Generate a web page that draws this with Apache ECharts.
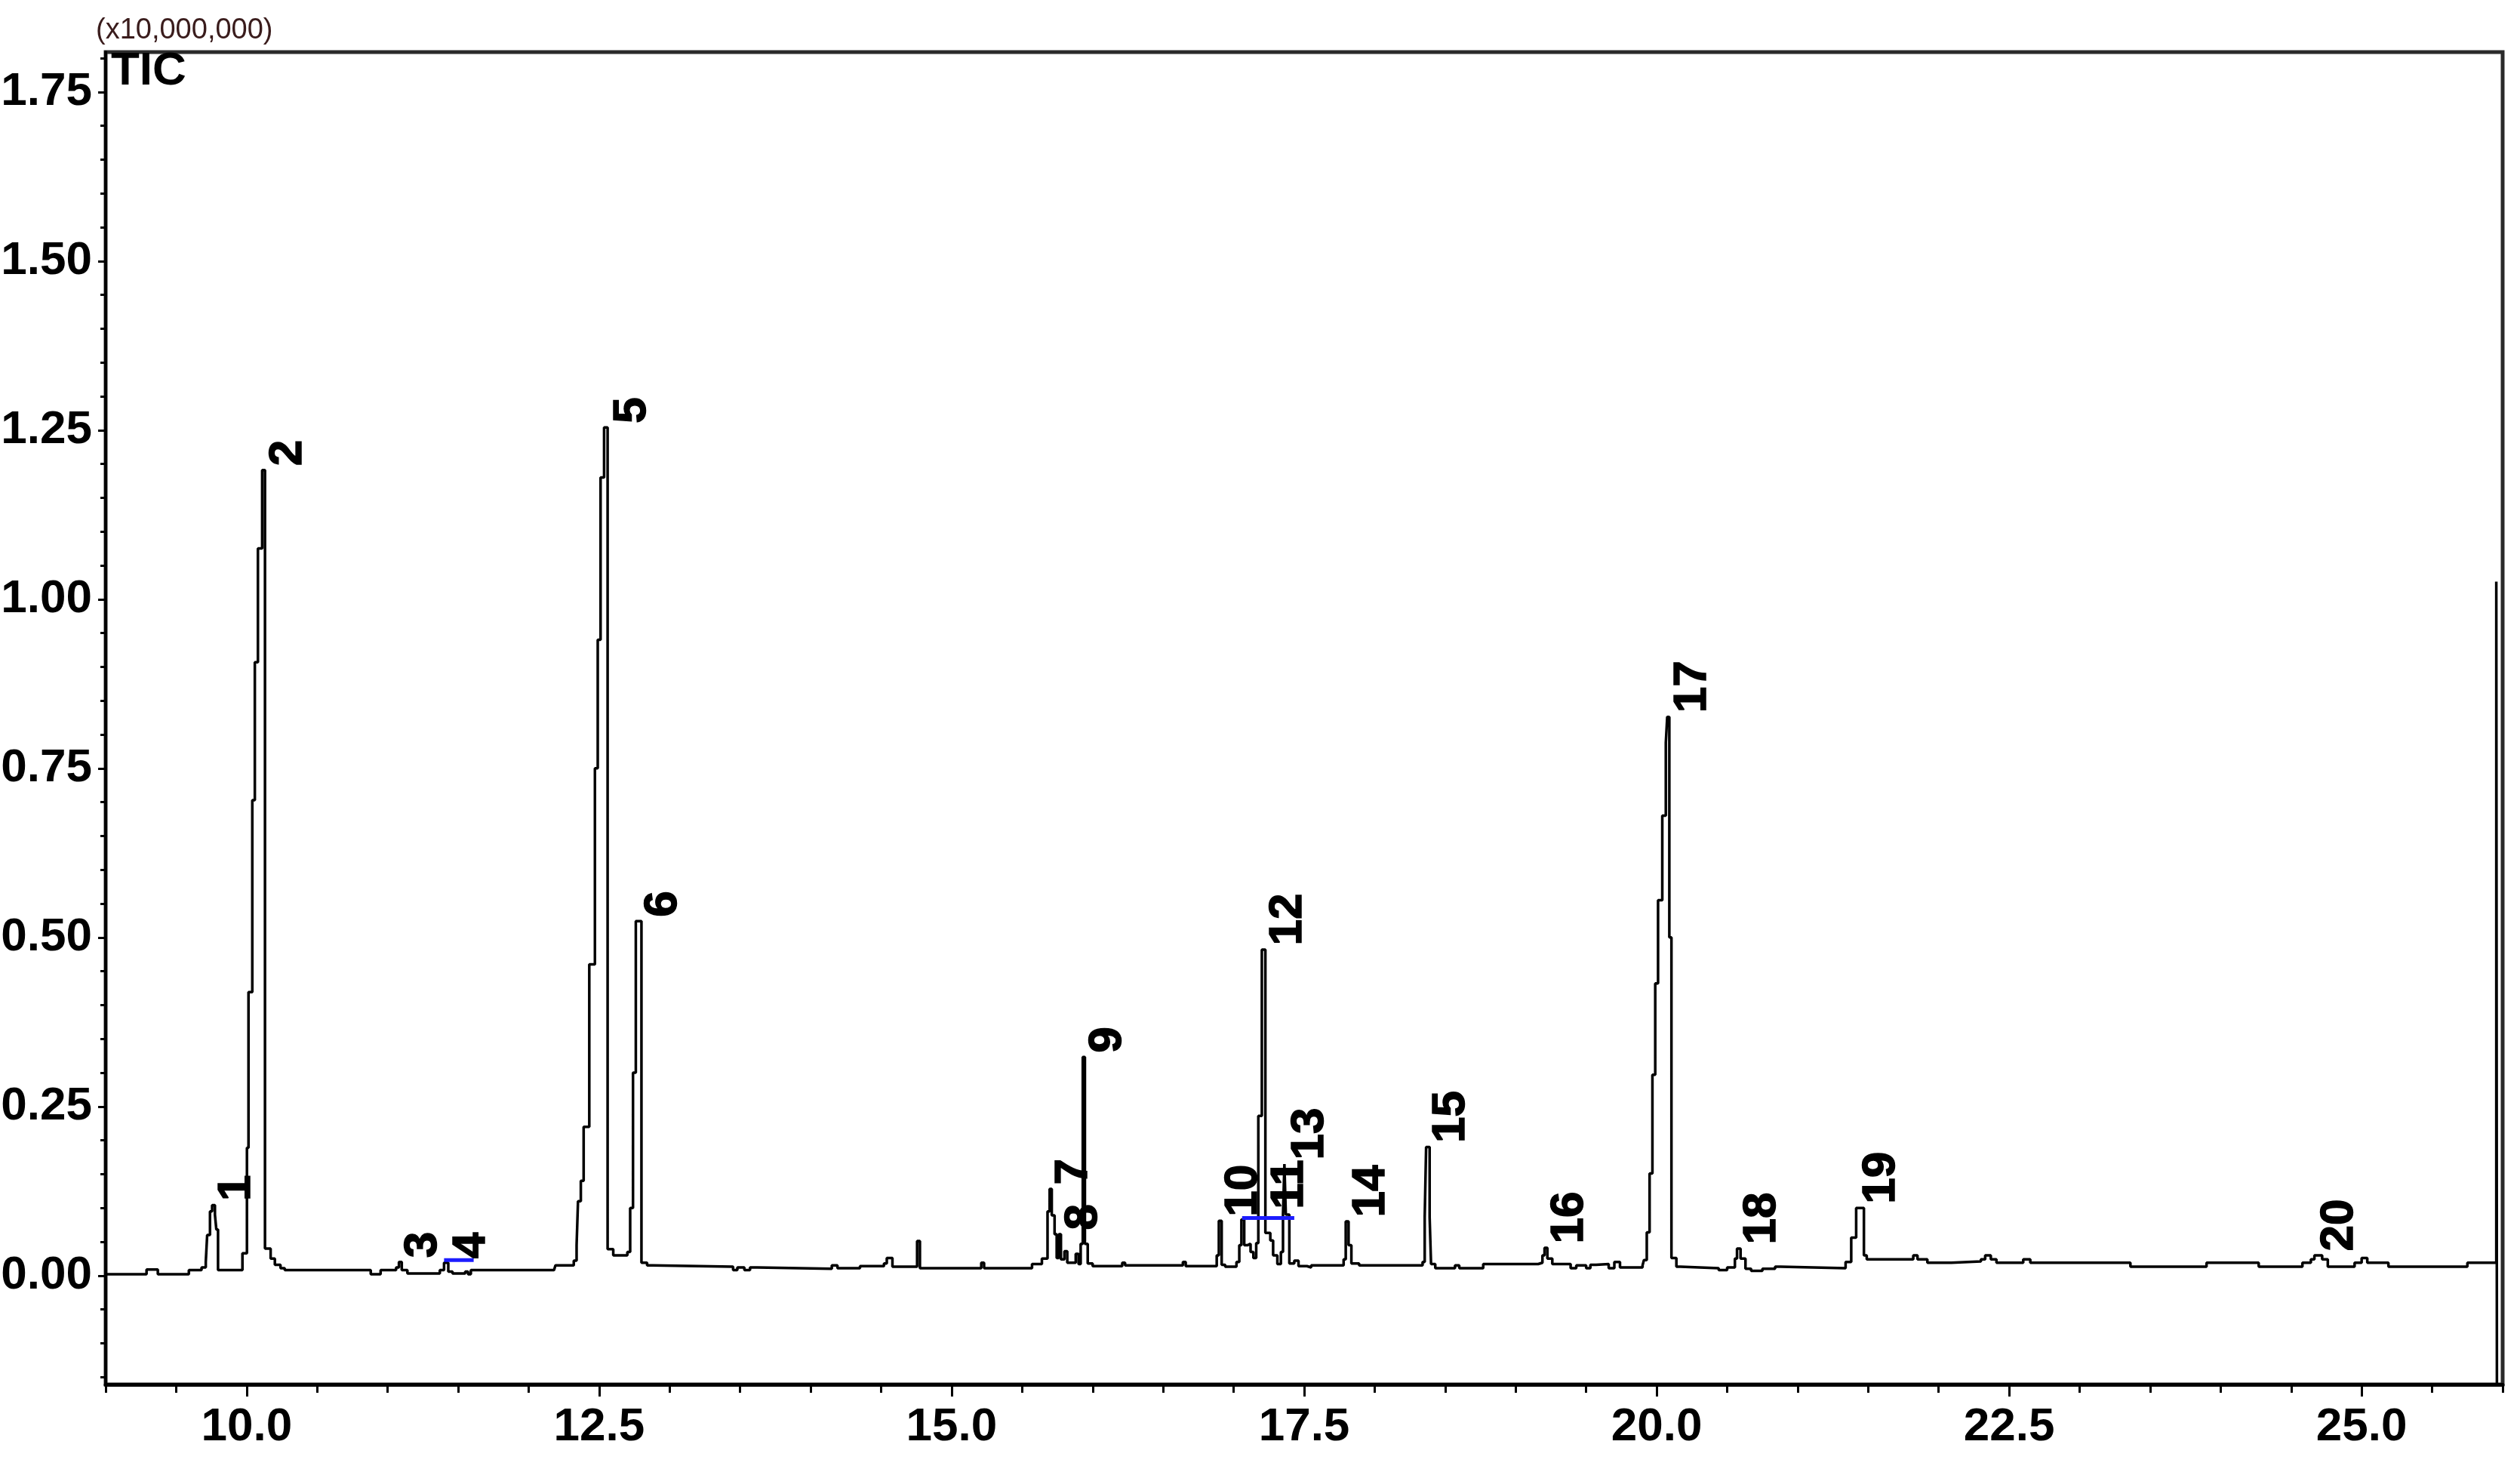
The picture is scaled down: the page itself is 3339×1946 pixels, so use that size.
<!DOCTYPE html>
<html><head><meta charset="utf-8">
<script src="https://cdn.jsdelivr.net/npm/echarts@6/dist/echarts.min.js"></script>
<style>html,body{margin:0;padding:0;background:#fff}#c{width:3339px;height:1946px}</style>
</head><body><div id="c"></div>
<script>
// Retention time (min) and TIC intensity (x10,000,000)
const traceTime = [
 9.00, 9.29, 9.37, 9.59, 9.68, 9.71, 9.72, 9.74, 9.755, 9.775, 9.785, 9.797,
 9.97, 10.002, 10.013, 10.040, 10.058, 10.080, 10.110, 10.130, 10.17, 10.20, 10.24, 10.27,
 10.88, 10.95, 11.06, 11.08, 11.10, 11.14, 11.37, 11.40, 11.43, 11.46, 11.55, 11.57, 11.59,
 12.18, 12.19, 12.32, 12.34, 12.35, 12.37, 12.39, 12.43, 12.47, 12.49, 12.51, 12.535, 12.56,
 12.60, 12.70, 12.72, 12.74, 12.76, 12.80, 12.84, 12.88,
 13.45, 13.48, 13.53, 13.57, 13.62, 14.15, 14.19, 14.35, 14.52, 14.54, 14.58, 14.755, 14.775,
 15.21, 15.23, 15.57, 15.64, 15.68, 15.695, 15.71, 15.73, 15.745, 15.76, 15.775, 15.80, 15.82,
 15.88, 15.90, 15.915, 15.93, 15.945, 15.965, 16.00, 16.21, 16.23, 16.64, 16.66,
 16.88, 16.895, 16.915, 16.94, 17.02, 17.04, 17.055, 17.075, 17.10, 17.12, 17.14, 17.16,
 17.175, 17.20, 17.225, 17.26, 17.28, 17.31, 17.335, 17.35, 17.36, 17.37, 17.395, 17.43,
 17.46, 17.52, 17.55, 17.78, 17.795, 17.815, 17.835, 17.89, 18.34, 18.355, 18.365, 18.39,
 18.40, 18.43, 18.57, 18.60, 18.77, 19.16, 19.19, 19.205, 19.225, 19.26, 19.39, 19.43,
 19.50, 19.53, 19.57, 19.66, 19.70, 19.74, 19.90, 19.91, 19.93, 19.95, 19.97, 19.99, 20.01,
 20.04, 20.065, 20.075, 20.09, 20.105, 20.14, 20.17, 20.44, 20.50, 20.555, 20.57, 20.595,
 20.63, 20.67, 20.75, 20.84, 20.88, 21.34, 21.38, 21.415, 21.47, 21.49, 21.82, 21.85,
 21.92, 22.09, 22.30, 22.33, 22.37, 22.41, 22.60, 22.65, 23.36, 23.90, 24.27, 24.58,
 24.64, 24.665, 24.72, 24.76, 24.95, 25.00, 25.04, 25.19, 25.75, 25.955, 25.96
];
const traceTIC = [
 0.002, 0.009, 0.002, 0.008, 0.012, 0.020, 0.060, 0.095, 0.104, 0.090, 0.068, 0.008,
 0.033, 0.189, 0.419, 0.703, 0.907, 1.075, 1.191, 0.040, 0.025, 0.016, 0.011, 0.008,
 0.002, 0.008, 0.012, 0.020, 0.008, 0.003, 0.008, 0.019, 0.006, 0.003, 0.006, 0.002, 0.008,
 0.010, 0.015, 0.022, 0.045, 0.110, 0.140, 0.220, 0.460, 0.750, 0.940, 1.180, 1.254, 0.039,
 0.030, 0.035, 0.100, 0.300, 0.524, 0.019, 0.015, 0.013,
 0.008, 0.012, 0.008, 0.012, 0.010, 0.015, 0.011, 0.014, 0.018, 0.026, 0.013, 0.051, 0.011,
 0.019, 0.011, 0.017, 0.025, 0.095, 0.128, 0.089, 0.061, 0.026, 0.061, 0.024, 0.036, 0.019,
 0.032, 0.017, 0.047, 0.323, 0.047, 0.018, 0.014, 0.019, 0.015, 0.020, 0.014,
 0.030, 0.081, 0.016, 0.013, 0.020, 0.045, 0.083, 0.045, 0.047, 0.035, 0.026, 0.048,
 0.236, 0.482, 0.063, 0.052, 0.030, 0.017, 0.035, 0.090, 0.165, 0.090, 0.018, 0.022,
 0.014, 0.012, 0.015, 0.024, 0.080, 0.045, 0.018, 0.015, 0.020, 0.086, 0.190, 0.086,
 0.017, 0.011, 0.015, 0.011, 0.017, 0.019, 0.030, 0.041, 0.025, 0.017, 0.011, 0.015,
 0.011, 0.016, 0.017, 0.011, 0.020, 0.012, 0.015, 0.023, 0.064, 0.151, 0.297, 0.432, 0.555,
 0.680, 0.788, 0.826, 0.500, 0.026, 0.013, 0.011, 0.008, 0.012, 0.025, 0.040, 0.025,
 0.010, 0.007, 0.010, 0.013, 0.011, 0.020, 0.056, 0.100, 0.030, 0.024, 0.030, 0.024,
 0.019, 0.021, 0.024, 0.030, 0.024, 0.019, 0.024, 0.019, 0.013, 0.019, 0.013, 0.019,
 0.024, 0.030, 0.024, 0.013, 0.019, 0.026, 0.019, 0.013, 0.019, 1.026, -0.300
];
// Numbered peak annotations (apex time, apex intensity)
const peakNames  = ['1','2','3','4','5','6','7','8','9','10','11','12','13','14','15','16','17','18','19','20'];
const peakTime   = [9.755, 10.12, 11.08, 11.42, 12.56, 12.78, 15.695, 15.76, 15.935, 16.895, 17.225, 17.215, 17.37, 17.80, 18.37, 19.21, 20.08, 20.575, 21.42, 24.67];
const peakHeight = [0.104, 1.191, 0.020, 0.019, 1.254, 0.524, 0.128, 0.061, 0.323, 0.081, 0.092, 0.482, 0.165, 0.080, 0.190, 0.041, 0.826, 0.040, 0.100, 0.030];
// Integration baselines (blue)
const baseA_time = [11.40, 11.61], baseA_level = [0.023, 0.023];
const baseB_time = [17.06, 17.43], baseB_level = [0.085, 0.085];
// Axis ticks
const xMajorTicks = [10, 12.5, 15, 17.5, 20, 22.5, 25];
const xMinorTicks = [9, 9.5, 10, 10.5, 11, 11.5, 12, 12.5, 13, 13.5, 14, 14.5, 15, 15.5, 16, 16.5, 17, 17.5, 18, 18.5, 19, 19.5, 20, 20.5, 21, 21.5, 22, 22.5, 23, 23.5, 24, 24.5, 25, 25.5, 26];
const yMajorTicks = [0, 0.25, 0.5, 0.75, 1.0, 1.25, 1.5, 1.75];
const yMinorTicks = [-0.15, -0.10, -0.05, 0, 0.05, 0.10, 0.15, 0.20, 0.25, 0.30, 0.35, 0.40, 0.45, 0.50, 0.55, 0.60, 0.65, 0.70, 0.75, 0.80, 0.85, 0.90, 0.95, 1.00, 1.05, 1.10, 1.15, 1.20, 1.25, 1.30, 1.35, 1.40, 1.45, 1.50, 1.55, 1.60, 1.65, 1.70, 1.75, 1.80];
const scaleText = '(x10,000,000)';
const traceTitle = 'TIC';

const axisFont = "'Liberation Sans Narrow','Arial Narrow','Liberation Sans',Arial,sans-serif";
const ink = '#000';
const chart = echarts.init(document.getElementById('c'), null, {renderer: 'canvas'});
const xBase = {type: 'value', min: 9, max: 26, position: 'bottom', offset: 0, splitLine: {show: false}};
const yBase = {type: 'value', min: -0.161, max: 1.809, position: 'left', offset: 0, splitLine: {show: false}};
chart.setOption({
  animation: false,
  backgroundColor: '#fff',
  grid: {left: 140, right: 23, top: 69, bottom: 112, show: true, borderColor: '#2a2a2a', borderWidth: 5,
    containLabel: false, outerBoundsMode: 'none'},
  xAxis: [
    Object.assign({}, xBase, {
      axisLine: {show: true, onZero: false, lineStyle: {color: ink, width: 5}},
      axisTick: {show: true, customValues: xMajorTicks, length: 16, lineStyle: {color: ink, width: 3}},
      axisLabel: {show: true, customValues: xMajorTicks, formatter: v => Number(v).toFixed(1),
        fontFamily: axisFont, fontWeight: 'bold', fontSize: 62, color: '#000', margin: 26}
    }),
    Object.assign({}, xBase, {
      axisLine: {show: false, onZero: false},
      axisTick: {show: true, customValues: xMinorTicks, length: 11, lineStyle: {color: ink, width: 3}},
      axisLabel: {show: false}
    })
  ],
  yAxis: [
    Object.assign({}, yBase, {
      axisLine: {show: true, onZero: false, lineStyle: {color: ink, width: 4}},
      axisTick: {show: true, customValues: yMajorTicks, length: 10, lineStyle: {color: ink, width: 3}},
      axisLabel: {show: true, customValues: yMajorTicks, formatter: v => Number(v).toFixed(2),
        fontFamily: axisFont, fontWeight: 'bold', fontSize: 62, color: '#000', margin: 18}
    }),
    Object.assign({}, yBase, {
      axisLine: {show: false, onZero: false},
      axisTick: {show: true, customValues: yMinorTicks, length: 7, lineStyle: {color: ink, width: 3}},
      axisLabel: {show: false}
    })
  ],
  graphic: [
    {type: 'text', left: 127, top: 22, style: {text: scaleText, font: "38px 'Liberation Sans', Arial, sans-serif", fill: '#3a1c1c'}},
    {type: 'text', left: 147, top: 64, z: 10, style: {text: traceTitle, font: "bold 62px " + axisFont, fill: '#000'}}
  ],
  series: [
    {type: 'line', name: 'TIC', xAxisIndex: 0, yAxisIndex: 0, step: 'end', symbol: 'none', clip: true,
      lineStyle: {color: ink, width: 3.5}, z: 3, silent: true,
      data: traceTime.map((t, i) => [t, traceTIC[i]])},
    {type: 'line', xAxisIndex: 0, yAxisIndex: 0, symbol: 'none', lineStyle: {color: '#1c1cff', width: 5}, z: 4, silent: true,
      data: baseA_time.map((t, i) => [t, baseA_level[i]])},
    {type: 'line', xAxisIndex: 0, yAxisIndex: 0, symbol: 'none', lineStyle: {color: '#1c1cff', width: 5}, z: 4, silent: true,
      data: baseB_time.map((t, i) => [t, baseB_level[i]])},
    {type: 'scatter', xAxisIndex: 0, yAxisIndex: 0, symbolSize: 1, itemStyle: {color: 'rgba(0,0,0,0)'}, z: 5, silent: true,
      label: {show: true, formatter: p => p.data[2], position: [33, -5], rotate: 90, align: 'left', verticalAlign: 'middle',
        fontFamily: "'Liberation Sans', Arial, sans-serif", fontWeight: 'bold', fontSize: 62, color: '#000',
        textBorderColor: '#000', textBorderWidth: 1.5, opacity: 1},
      data: peakTime.map((t, i) => [t, peakHeight[i], peakNames[i]])}
  ]
});
</script></body></html>
